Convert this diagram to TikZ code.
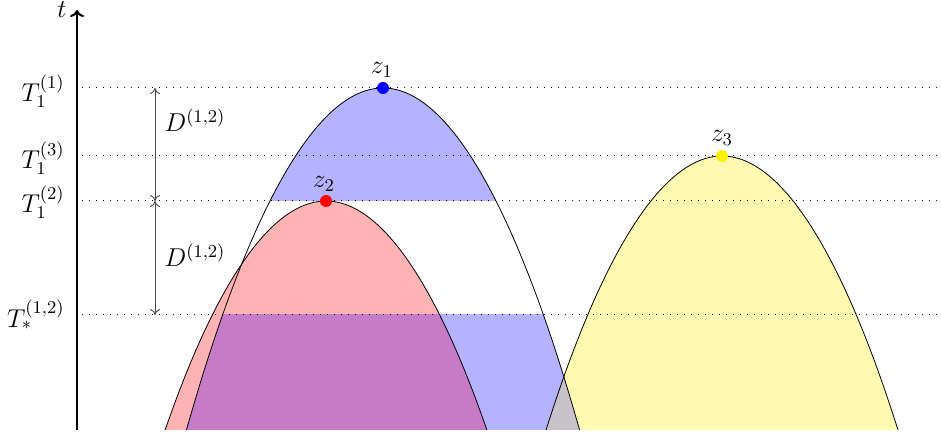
\RequirePackage{fix-cm}
\documentclass[tikz,border=0pt]{standalone}
\usetikzlibrary{arrows.meta}
\definecolor{blueF}{RGB}{179,179,255}
\definecolor{redF}{RGB}{255,179,179}
\definecolor{yelF}{RGB}{255,250,178}
\definecolor{purF}{RGB}{198,123,198}
\definecolor{greyF}{RGB}{200,195,200}
\begin{document}
\begin{tikzpicture}[x=0.5pt,y=0.5pt,
  lbl/.style={font=\fontsize{12.9}{15}\selectfont, inner sep=0pt},
  curve/.style={draw=black, line width=0.4pt},
  level/.style={black, line width=0.5pt, dash pattern=on 0.5pt off 3pt},
  gap/.style={black!70, line width=0.45pt, {To[length=3pt,width=5pt]}-{To[length=3pt,width=5pt]}},
  dot/.style={circle, inner sep=0pt, minimum size=6pt}
]
\useasboundingbox (0,0) rectangle (941,438);
\def\pone{(186.4,8) parabola bend (383,350) (579.6,8)}
\def\ptwo{(165.1,8) parabola bend (326,237) (486.9,8)}
\def\pthree{(546,8) parabola bend (722,282) (898,8)}
% blue parts
\begin{scope}
  \clip (0,237) rectangle (941,438);
  \fill[blueF] \pone -- cycle;
\end{scope}
\begin{scope}
  \clip (0,0) rectangle (941,123);
  \fill[blueF] \pone -- cycle;
\end{scope}
\fill[redF] \ptwo -- cycle;
\fill[yelF] \pthree -- cycle;
\begin{scope}
  \clip \ptwo -- cycle;
  \clip (0,0) rectangle (941,123);
  \fill[purF] \pone -- cycle;
\end{scope}
\begin{scope}
  \clip \pthree -- cycle;
  \clip (0,0) rectangle (941,123);
  \fill[greyF] \pone -- cycle;
\end{scope}
\path[curve] \pone;
\path[curve] \ptwo;
\path[curve] \pthree;
% levels
\coordinate (l1a) at (82,350); \coordinate (l1b) at (941,350);
\coordinate (l3a) at (82,282); \coordinate (l3b) at (941,282);
\coordinate (l2a) at (82,237); \coordinate (l2b) at (941,237);
\coordinate (lsa) at (82,123); \coordinate (lsb) at (941,123);
\draw[level] (l1a) -- (l1b);
\draw[level] (l3a) -- (l3b);
\draw[level] (l2a) -- (l2b);
\draw[level] (lsa) -- (lsb);
% axis
\coordinate (ax0) at (77,8);
\coordinate (ax1) at (77,428);
\draw[line width=1pt, -{To[length=3.5pt,width=7pt]}] (ax0) -- (ax1);
\node[lbl] (t) at (62,428) {$t$};
% level labels
\node[lbl, anchor=east] (T1) at (65,347) {$T_1^{(1)}$};
\node[lbl, anchor=east] (T3) at (65,280) {$T_1^{(3)}$};
\node[lbl, anchor=east] (T2) at (65,236) {$T_1^{(2)}$};
\node[lbl, anchor=east] (Ts) at (65,123) {$T_*^{(1,2)}$};
% gap arrows
\coordinate (g1) at (155,350);
\coordinate (g2) at (155,237);
\coordinate (g3) at (155,123);
\draw[gap] (g1) -- (g2);
\draw[gap] (g2) -- (g3);
\node[lbl] (D1) at (195,318) {$D^{(1,2)}$};
\node[lbl] (D2) at (195,183) {$D^{(1,2)}$};
% apex points
\node[dot, fill=blue] (z1) at (383,350) {};
\node[dot, fill=red] (z2) at (326,237) {};
\node[dot, fill=yellow] (z3) at (722,282) {};
\node[lbl] (z1l) at (382,368) {$z_1$};
\node[lbl] (z2l) at (324,254) {$z_2$};
\node[lbl] (z3l) at (722,300) {$z_3$};
\end{tikzpicture}
\end{document}
